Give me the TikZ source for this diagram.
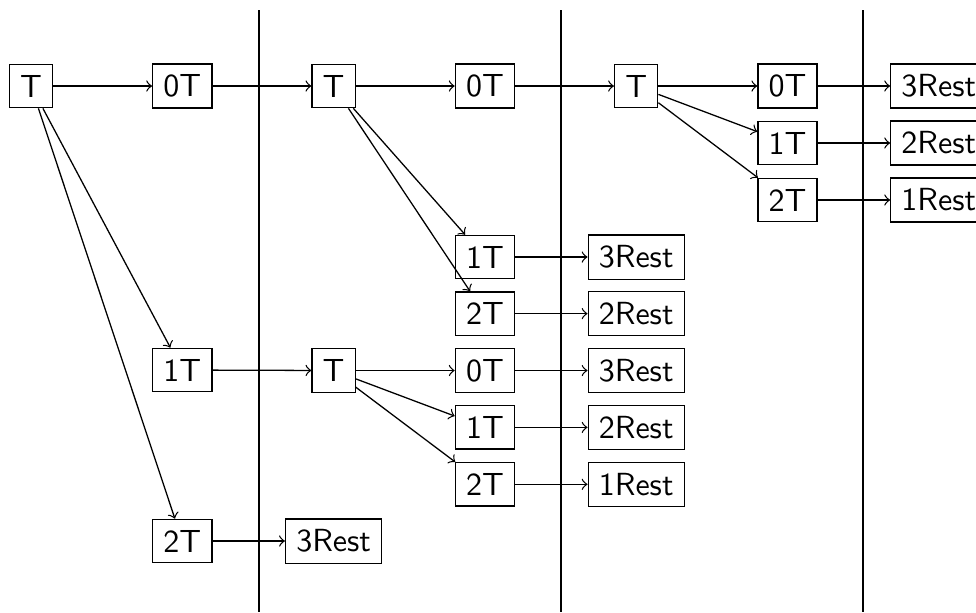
\documentclass[tikz,border=0pt]{standalone}
\usetikzlibrary{arrows}
\begin{document}
\begin{tikzpicture}[x=0.3125pt,y=-0.3125pt,
  box/.style={draw,font=\sffamily,inner sep=3.333pt,minimum height=13.1pt,anchor=center},
  link/.style={->},
  divider/.style={thick}]
\useasboundingbox (0,0) rectangle (976,612);
% column and row positions
\def\ca{31}\def\cb{182.3}\def\cc{333.6}\def\cd{484.9}\def\ce{636.2}\def\cf{787.5}\def\cg{938.8}
% stage dividers
\coordinate (d1t) at (259,10);  \coordinate (d1b) at (259,612);
\coordinate (d2t) at (561,10);  \coordinate (d2b) at (561,612);
\coordinate (d3t) at (863,10);  \coordinate (d3b) at (863,612);
\draw[divider] (d1t) -- (d1b);
\draw[divider] (d2t) -- (d2b);
\draw[divider] (d3t) -- (d3b);
% first stage
\node[box] (t1)  at (\ca,86)  {T};
\node[box] (a0)  at (\cb,86)  {0T};
\node[box] (a1)  at (\cb,370) {1T};
\node[box] (a2)  at (\cb,541) {2T};
\node[box] (r0)  at (\cc,541) {3Rest};
% second stage, top branch
\node[box] (t2)  at (\cc,86)  {T};
\node[box] (b0)  at (\cd,86)  {0T};
\node[box] (b1)  at (\cd,257) {1T};
\node[box] (b2)  at (\cd,313.6) {2T};
\node[box] (rb1) at (\ce,257) {3Rest};
\node[box] (rb2) at (\ce,313.6) {2Rest};
% second stage, lower branch
\node[box] (t4)  at (\cc,370.5) {T};
\node[box] (c0)  at (\cd,370.5) {0T};
\node[box] (c1)  at (\cd,427.4) {1T};
\node[box] (c2)  at (\cd,484.3) {2T};
\node[box] (rc0) at (\ce,370.5) {3Rest};
\node[box] (rc1) at (\ce,427.4) {2Rest};
\node[box] (rc2) at (\ce,484.3) {1Rest};
% third stage
\node[box] (t3)  at (\ce,86)  {T};
\node[box] (e0)  at (\cf,86)  {0T};
\node[box] (e1)  at (\cf,143) {1T};
\node[box] (e2)  at (\cf,200) {2T};
\node[box] (re0) at (\cg,86)  {3Rest};
\node[box] (re1) at (\cg,143) {2Rest};
\node[box] (re2) at (\cg,200) {1Rest};
% connectors
\draw[link] (t1) -- (a0);
\draw[link] (t1) -- (a1);
\draw[link] (t1) -- (a2);
\draw[link] (a2) -- (r0);
\draw[link] (a0) -- (t2);
\draw[link] (a1) -- (t4);
\draw[link] (t2) -- (b0);
\draw[link] (t2) -- (b1);
\draw[link] (t2) -- (b2);
\draw[link] (b1) -- (rb1);
\draw[link] (b2) -- (rb2);
\draw[link] (t4) -- (c0);
\draw[link] (t4) -- (c1);
\draw[link] (t4) -- (c2);
\draw[link] (c0) -- (rc0);
\draw[link] (c1) -- (rc1);
\draw[link] (c2) -- (rc2);
\draw[link] (b0) -- (t3);
\draw[link] (t3) -- (e0);
\draw[link] (t3) -- (e1);
\draw[link] (t3) -- (e2);
\draw[link] (e0) -- (re0);
\draw[link] (e1) -- (re1);
\draw[link] (e2) -- (re2);
\end{tikzpicture}
\end{document}
